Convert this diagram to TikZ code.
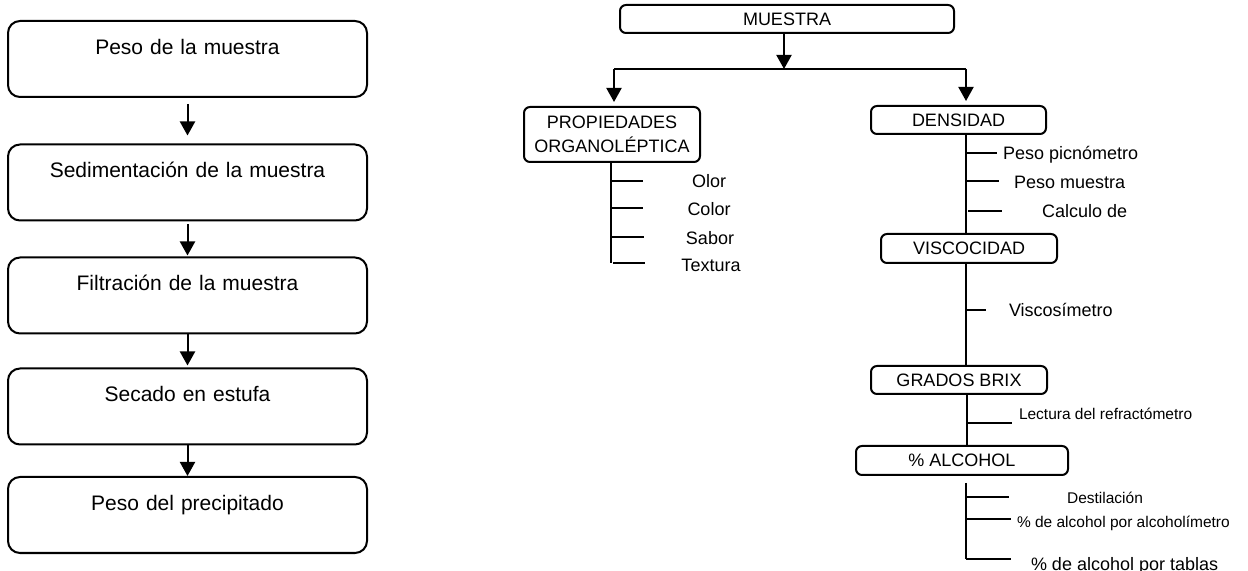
\documentclass[tikz,border=0pt]{standalone}
\usepackage{fontspec}
\setmainfont{Liberation Sans}
\usetikzlibrary{arrows.meta}
\begin{document}
\begin{tikzpicture}[x=0.5pt,y=-0.5pt,
  line width=1pt,
  stepbox/.style={draw, rounded corners=6pt, inner sep=0pt, text width=179.5pt,
    align=center, text height=16.75pt, text depth=21.25pt,
    font=\fontsize{10.5}{12}\selectfont},
  topic/.style={draw, rounded corners=3pt, inner sep=0pt, minimum height=14pt,
    align=center, font=\fontsize{9}{12}\selectfont},
  arr/.style={-{Triangle[length=7pt,width=7.5pt]}},
  item/.style={inner sep=0pt, font=\fontsize{9}{11}\selectfont},
  small/.style={inner sep=0pt, font=\fontsize{7.75}{9}\selectfont},
]
\useasboundingbox (0,0) rectangle (1248,571);

% ---- left column: sequential procedure ----
\node[stepbox] (s1) at (187.5,59)    {Peso de la muestra};
\node[stepbox] (s2) at (187.5,182.5) {Sedimentación de la muestra};
\node[stepbox] (s3) at (187.5,295.5) {Filtración de la muestra};
\node[stepbox] (s4) at (187.5,406.5) {Secado en estufa};
\node[stepbox] (s5) at (187.5,515)   {Peso del precipitado};

\draw[arr, shorten <=3pt, shorten >=4pt]   (s1.south) -- (s2.north);
\draw[arr, shorten <=1.5pt, shorten >=0.5pt] (s2.south) -- (s3.north);
\draw[arr, shorten >=1pt] (s3.south) -- (s4.north);
\draw[arr] (s4.south) -- (s5.north);

% ---- right: analysis tree ----
\node[topic, minimum width=167pt] (mu) at (787,19) {MUESTRA};
\coordinate (split) at (784,69);
\coordinate (jl) at (614,69);
\coordinate (jr) at (966,69);
\draw[arr] (mu.south -| split) -- (split);
\draw (jl) -- (jr);

\node[topic, minimum width=88pt, minimum height=27.5pt] (prop) at (612,134.5)
  {PROPIEDADES\\ORGANOLÉPTICA};
\node[topic, minimum width=87.5pt] (dens) at (958.5,120) {DENSIDAD};
\draw[arr, shorten >=2pt] (jl) -- (jl |- prop.north);
\draw[arr, shorten >=2pt] (jr) -- (jr |- dens.north);

% organoleptic properties
\coordinate (pend) at (611,263);
\draw (prop.south -| pend) -- (pend);
\coordinate (o1) at (643,181);
\coordinate (o2) at (643,208);
\coordinate (o3) at (644,237);
\coordinate (o4) at (645,263);
\draw (o1 -| pend) -- (o1);
\draw (o2 -| pend) -- (o2);
\draw (o3 -| pend) -- (o3);
\draw ([xshift=1pt]o4 -| pend) -- (o4);
\node[item, anchor=base] (olor)  at (709,187.4) {Olor};
\node[item, anchor=base] (color) at (709,215.4) {Color};
\node[item, anchor=base] (sabor) at (710,244.4) {Sabor};
\node[item, anchor=base] (text)  at (711,271.4) {Textura};

% density
\node[topic, minimum width=88pt, minimum height=14.5pt] (visc) at (969,248.5) {VISCOCIDAD};
\coordinate (dc) at (966,0);
\draw (dens.south -| dc) -- (visc.north -| dc);
\coordinate (d1) at (997,153);
\coordinate (d2) at (999,181);
\coordinate (d3) at (1002,211);
\draw (d1 -| dc) -- (d1);
\draw (d2 -| dc) -- (d2);
\draw ([xshift=1pt]d3 -| dc) -- (d3);
\node[item, anchor=base west] (pp) at (1002,159.4) {Peso picnómetro};
\node[item, anchor=base west] (pm) at (1013,188.4) {Peso muestra};
\node[item, anchor=base west] (cd) at (1041,217.4) {Calculo de};

% viscosity
\node[topic, minimum width=88pt] (brix) at (959,380) {GRADOS BRIX};
\draw (visc.south -| dc) -- (brix.north -| dc);
\coordinate (v1) at (986,310);
\draw (v1 -| dc) -- (v1);
\node[item, anchor=base west] (vm) at (1008,316.4) {Viscosímetro};

% degrees Brix
\node[topic, minimum width=106pt, minimum height=14.5pt] (alc) at (962,460.5) {\% ALCOHOL};
\coordinate (bc) at (967,0);
\draw (brix.south -| bc) -- (alc.north -| bc);
\coordinate (b1) at (1012,423);
\draw (b1 -| bc) -- (b1);
\node[small, anchor=base west] (lr) at (1018,419.5) {Lectura del refractómetro};

% alcohol content
\coordinate (aend) at (966,559);
\draw ([yshift=-3.5pt]alc.south -| aend) -- (aend);
\coordinate (a1) at (1009,497);
\coordinate (a2) at (1011,519);
\coordinate (a3) at (1011,559);
\draw (a1 -| aend) -- (a1);
\draw (a2 -| aend) -- (a2);
\draw (aend) -- (a3);
\node[small, anchor=base] (dest) at (1105,503.5) {Destilación};
\node[small, anchor=base west] (aa) at (1016,527.5) {\% de alcohol por alcoholímetro};
\node[item, anchor=base west] (at) at (1030,570) {\% de alcohol por tablas};
\end{tikzpicture}
\end{document}
